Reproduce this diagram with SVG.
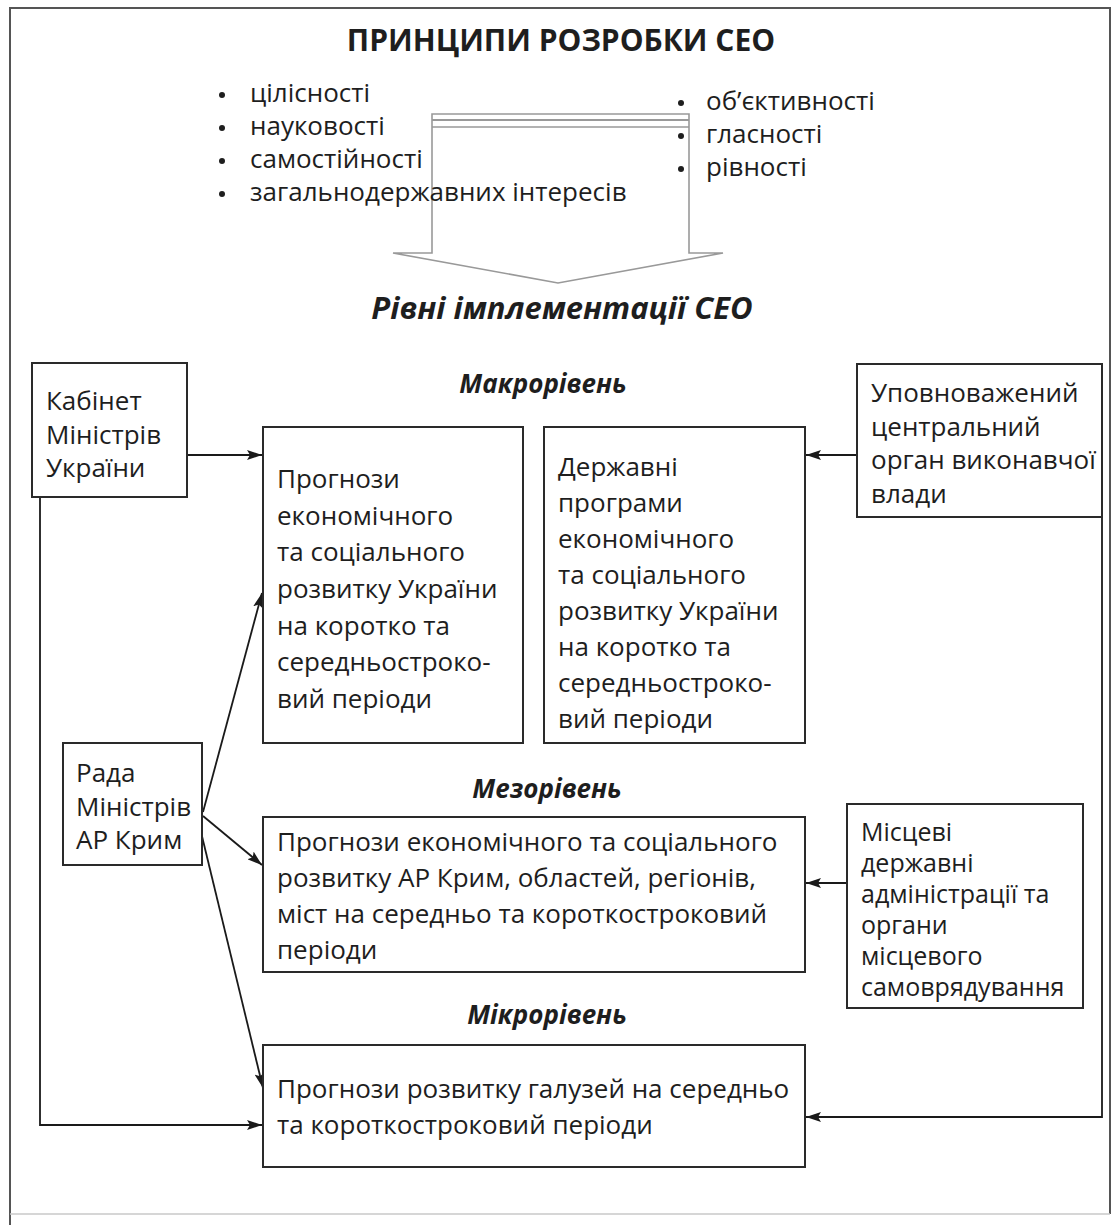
<svg xmlns="http://www.w3.org/2000/svg" width="1113" height="1225" viewBox="0 0 1113 1225">
<defs>
<marker id="ah" markerUnits="userSpaceOnUse" markerWidth="16" markerHeight="10" refX="15" refY="5" orient="auto">
<path d="M0,0 L15,5 L0,10 L3,5 z" fill="#1a1a1a"/>
</marker>
</defs>
<style>
text{font-family:"Open Sans","Noto Sans","Liberation Sans",sans-serif;fill:#1e1e1e}
.t{font-size:26px}
.s{font-size:25px}
.h{font-weight:bold;font-style:italic;font-size:26px;text-anchor:middle}
.box{fill:#fff;stroke:#2a2a2a;stroke-width:2}
.ca{fill:none;stroke:#1a1a1a;stroke-width:1.8;marker-end:url(#ah)}
.b{fill:#1e1e1e}
</style>
<rect x="0" y="0" width="1113" height="1225" fill="#fff"/>
<path d="M10,1225 L10,8 L1110,8 L1110,1214" fill="none" stroke="#555" stroke-width="2"/>
<line x1="10" y1="1214" x2="1110" y2="1214" stroke="#c8c8c8" stroke-width="1.5"/>

<g id="title">
<text x="561" y="51" text-anchor="middle" font-weight="bold" font-size="30">ПРИНЦИПИ РОЗРОБКИ СЕО</text>
</g>

<g id="big-arrow">
<polygon points="432,114 689,114 689,253 723,253 558,283 393,253 432,253" fill="#fff" stroke="#999" stroke-width="1.6"/>
<line x1="432" y1="120" x2="689" y2="120" stroke="#999" stroke-width="2"/>
<line x1="432" y1="127" x2="689" y2="127" stroke="#999" stroke-width="1.6"/>
</g>

<g id="principles-left" class="t">
<circle class="b" cx="222" cy="95" r="3"/><text x="250" y="102">цілісності</text>
<circle class="b" cx="222" cy="128" r="3"/><text x="250" y="135">науковості</text>
<circle class="b" cx="222" cy="161" r="3"/><text x="250" y="168">самостійності</text>
<circle class="b" cx="222" cy="194" r="3"/><text x="250" y="201">загальнодержавних інтересів</text>
</g>
<g id="principles-right" class="t">
<circle class="b" cx="681" cy="103" r="3"/><text x="706" y="110">об’єктивності</text>
<circle class="b" cx="681" cy="136" r="3"/><text x="706" y="143">гласності</text>
<circle class="b" cx="681" cy="169" r="3"/><text x="706" y="176">рівності</text>
</g>

<g id="levels-title">
<text x="562" y="319" text-anchor="middle" font-weight="bold" font-style="italic" font-size="31">Рівні імплементації СЕО</text>
</g>
<text class="h" x="543" y="393">Макрорівень</text>
<text class="h" x="547" y="798">Мезорівень</text>
<text class="h" x="547" y="1024">Мікрорівень</text>

<g id="connectors">
<line class="ca" x1="187" y1="455" x2="262" y2="455"/>
<line class="ca" x1="857" y1="455" x2="806" y2="455"/>
<line class="ca" x1="203" y1="812" x2="262" y2="593"/>
<line class="ca" x1="203" y1="816" x2="262" y2="865"/>
<line class="ca" x1="200" y1="828" x2="263" y2="1088"/>
<polyline class="ca" points="40,497 40,1125 262,1125"/>
<polyline class="ca" points="1102,517 1102,1117 806,1117"/>
<line class="ca" x1="847" y1="883" x2="806" y2="883"/>
</g>

<g id="kabinet">
<rect class="box" x="32" y="363" width="155" height="134"/>
<text class="t" x="46" y="410">Кабінет</text>
<text class="t" x="46" y="444">Міністрів</text>
<text class="t" x="46" y="477">України</text>
</g>

<g id="macro-forecast">
<rect class="box" x="263" y="427" width="260" height="316"/>
<text class="t" x="277" y="488">Прогнози</text>
<text class="t" x="277" y="525">економічного</text>
<text class="t" x="277" y="561">та соціального</text>
<text class="t" x="277" y="598">розвитку України</text>
<text class="t" x="277" y="635">на коротко та</text>
<text class="t" x="277" y="671">середньостроко-</text>
<text class="t" x="277" y="708">вий періоди</text>
</g>

<g id="state-programs">
<rect class="box" x="544" y="427" width="261" height="316"/>
<text class="t" x="558" y="476">Державні</text>
<text class="t" x="558" y="512">програми</text>
<text class="t" x="558" y="548">економічного</text>
<text class="t" x="558" y="584">та соціального</text>
<text class="t" x="558" y="620">розвитку України</text>
<text class="t" x="558" y="656">на коротко та</text>
<text class="t" x="558" y="692">середньостроко-</text>
<text class="t" x="558" y="728">вий періоди</text>
</g>

<g id="central-body">
<rect class="box" x="857" y="364" width="245" height="153"/>
<text class="t" x="871" y="402">Уповноважений</text>
<text class="t" x="871" y="436">центральний</text>
<text class="t" x="871" y="469">орган виконавчої</text>
<text class="t" x="871" y="503">влади</text>
</g>

<g id="rada">
<rect class="box" x="63" y="743" width="139" height="122"/>
<text class="t" x="76" y="782">Рада</text>
<text class="t" x="76" y="816">Міністрів</text>
<text class="t" x="76" y="849">АР Крим</text>
</g>

<g id="meso-forecast">
<rect class="box" x="263" y="817" width="542" height="155"/>
<text class="t" x="277" y="851">Прогнози економічного та соціального</text>
<text class="t" x="277" y="887">розвитку АР Крим, областей, регіонів,</text>
<text class="t" x="277" y="923">міст на середньо та короткостроковий</text>
<text class="t" x="277" y="959">періоди</text>
</g>

<g id="local">
<rect class="box" x="847" y="804" width="236" height="204"/>
<text class="s" x="861" y="841">Місцеві</text>
<text class="s" x="861" y="872">державні</text>
<text class="s" x="861" y="903">адміністрації та</text>
<text class="s" x="861" y="934">органи</text>
<text class="s" x="861" y="965">місцевого</text>
<text class="s" x="861" y="996">самоврядування</text>
</g>

<g id="micro-forecast">
<rect class="box" x="263" y="1045" width="542" height="122"/>
<text class="t" x="277" y="1098">Прогнози розвитку галузей на середньо</text>
<text class="t" x="277" y="1134">та короткостроковий періоди</text>
</g>
</svg>
